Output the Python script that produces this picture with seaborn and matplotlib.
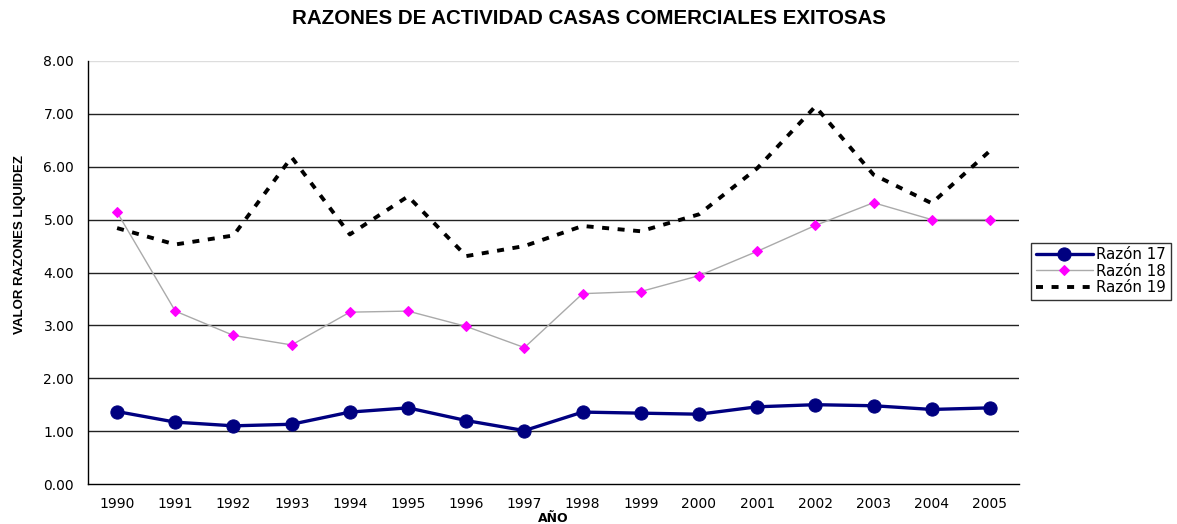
import numpy as np
import pandas as pd
import matplotlib
matplotlib.use("Agg")
import matplotlib.pyplot as plt
import seaborn as sns

# Datos
anios = ["1990", "1991", "1992", "1993", "1994", "1995", "1996", "1997",
         "1998", "1999", "2000", "2001", "2002", "2003", "2004", "2005"]
razon_17 = [1.37, 1.17, 1.10, 1.13, 1.36, 1.44, 1.20, 1.01,
            1.36, 1.34, 1.32, 1.46, 1.50, 1.48, 1.41, 1.44]
razon_18 = [5.14, 3.27, 2.81, 2.63, 3.25, 3.27, 2.98, 2.58,
            3.60, 3.64, 3.94, 4.40, 4.89, 5.32, 5.00, 5.00]
razon_19 = [4.84, 4.53, 4.70, 6.18, 4.72, 5.44, 4.31, 4.50,
            4.88, 4.78, 5.10, 5.97, 7.14, 5.85, 5.31, 6.30]

sns.set_style("white")
plt.rcParams['font.family'] = ['DejaVu Sans']
plt.rcParams['text.color'] = 'black'
plt.rcParams['xtick.color'] = 'black'
plt.rcParams['ytick.color'] = 'black'
plt.rcParams['axes.labelcolor'] = 'black'

pos = np.arange(len(anios))
df = pd.DataFrame({"pos": pos, "r17": razon_17, "r18": razon_18, "r19": razon_19})

W, H = 1177, 524
L, R, T, B = 88, 1019, 61, 484
fig = plt.figure(figsize=(W / 100, H / 100), dpi=100)
ax = fig.add_axes([L / W, 1 - B / H, (R - L) / W, (B - T) / H])

# líneas de la cuadrícula
for v in range(1, 8):
    ax.axhline(v, color="#222222", lw=1.0, zorder=1)
ax.axhline(8, color="#dddddd", lw=1.0, zorder=1)

sns.lineplot(data=df, x="pos", y="r19", ax=ax, color="black", lw=2.8,
             label="Razón 19", zorder=3)
ax.lines[-1].set_dashes((1.8, 2.2))
sns.lineplot(data=df, x="pos", y="r18", ax=ax, color="#aaaaaa", lw=1.0,
             marker="D", markersize=5.5, markerfacecolor="#ff00ff",
             markeredgecolor="#ff00ff", label="Razón 18", zorder=4)
sns.lineplot(data=df, x="pos", y="r17", ax=ax, color="#000080", lw=2.4,
             marker="o", markersize=9.5, markerfacecolor="#000080",
             markeredgecolor="#000080", label="Razón 17", zorder=5)

ax.set_xlim(-0.5, len(anios) - 0.5)
ax.set_ylim(0, 8)
ax.set_yticks(np.arange(0, 9, 1))
ax.set_yticklabels([f"{v:.2f}" for v in range(9)], fontsize=10)
ax.set_xticks(pos)
ax.set_xticklabels(anios, fontsize=10)
ax.set_xticks(np.arange(-0.5, len(anios), 1), minor=True)
ax.tick_params(axis="x", which="major", length=0, pad=9)
ax.tick_params(axis="x", which="minor", length=3, width=1, color="black", direction="out")
ax.tick_params(axis="y", length=4, width=1, color="black", direction="out", pad=6)

for s in ["top", "right"]:
    ax.spines[s].set_visible(False)
for s in ["left", "bottom"]:
    ax.spines[s].set_color("black")
    ax.spines[s].set_linewidth(1.0)

ax.set_xlabel("AÑO", fontsize=9, fontweight="bold")
ax.xaxis.set_label_coords(0.5, -(512 - B) / (B - T))
ax.set_ylabel("VALOR RAZONES LIQUIDEZ", fontsize=9.5, fontweight="bold",
              family=['Liberation Sans', 'DejaVu Sans'])
ax.yaxis.set_label_coords(-(L - 26) / (R - L), (B - 245) / (B - T))
fig.suptitle("RAZONES DE ACTIVIDAD CASAS COMERCIALES EXITOSAS", fontsize=14.8,
             fontweight="bold", family=['Liberation Sans', 'DejaVu Sans'],
             x=589 / W, y=1 - 18 / H, va="center")

handles, labels = ax.get_legend_handles_labels()
order = [2, 1, 0]
leg = ax.legend([handles[i] for i in order], [labels[i] for i in order],
                loc="center left", frameon=True, fancybox=False, edgecolor="black",
                fontsize=10.8, handlelength=3.8, borderpad=0.3, labelspacing=0.1,
                handletextpad=0.25, borderaxespad=0)
leg.get_frame().set_linewidth(1.0)
leg.set_bbox_to_anchor((1031 / W, 1 - 271 / H), transform=fig.transFigure)

fig.savefig("out.png", dpi=100)
